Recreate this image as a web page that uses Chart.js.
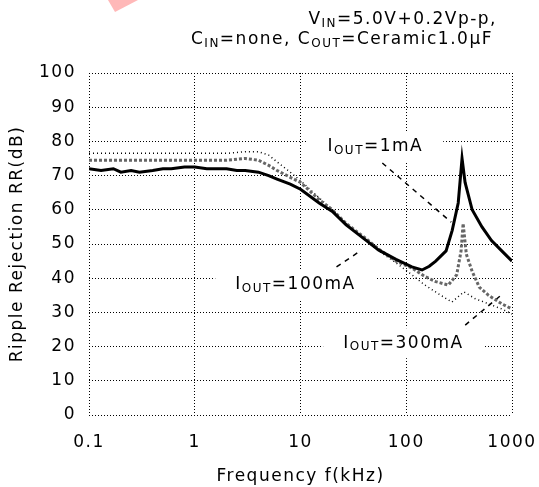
<!DOCTYPE html>
<html>
<head>
<meta charset="utf-8">
<script src="https://cdn.jsdelivr.net/npm/chart.js@4/dist/chart.umd.min.js"></script>
<style>
html,body{margin:0;padding:0;background:#fff;}
#wrap{width:539px;height:487px;}
</style>
</head>
<body>
<div id="wrap"><canvas id="c" width="539" height="487"></canvas></div>
<script>
// ---- data (frequency in kHz, ripple rejection in dB) ----
const freq1mA = [0.1,0.13,0.17,0.2,0.25,0.3,0.4,0.5,0.6,0.8,1,1.3,1.7,2,2.5,3,4,5,6,8,10,15,20,27,40,55,80,113,141,165,190,238,272,310,337,360,420,520,640,800,1000];
const rr1mA   = [72,71.5,72,71,71.5,71,71.5,72,72,72.5,72.5,72,72,72,71.5,71.5,71,70,69,67.5,66,62,59.5,55.6,51.5,48.2,45.5,43.3,42.4,43.5,45,48,54,62,75,68,60,55,51,48,45];

const freq100mA = [0.1,0.2,0.3,0.5,0.7,1,1.5,2,3,4,5,6,8,10,15,20,27,40,55,80,113,150,190,250,300,330,345,370,420,490,600,800,1000];
const rr100mA   = [74.5,74.5,74.5,74.5,74.5,74.5,74.5,74.5,75,74.5,73,71.5,69.5,68,63,60,56,52,48.5,45,43,40.5,39,38,41,48,56,47,42,37.4,35,32.5,31];

const freq300mA = [0.1,0.3,1,2,3,4,5,6,8,10,15,20,27,40,55,80,113,150,200,270,350,450,600,800,1000];
const rr300mA   = [76.5,76.5,76.5,76.5,77,77,76,74,71,68.5,63.5,60,56,51.5,48,44.5,41,38,35.5,33,36,34,32.5,31,29.5];

// leader lines from the labels to the curves: [freq, dB] pairs
const lead1mA   = [[59.4,73.7],[266,56.4]];
const lead100mA = [[21.9,43.3],[34.5,47.4]];
const lead300mA = [[361,26.3],[787,35]];

// curve labels: [freq, dB] of label centre
const label1mA   = {at:[51,78.4],  parts:[['I',0],['OUT',1],['=1mA',0]]};
const label100mA = {at:[8.97,38],  parts:[['I',0],['OUT',1],['=100mA',0]]};
const label300mA = {at:[94,21],    parts:[['I',0],['OUT',1],['=300mA',0]]};

const xTicks = [0.1,1,10,100,1000];
const xTickLabels = ['0.1','1','10','100','1000'];
const yMin = 0, yMax = 100, yStep = 10;

const cond1 = [['V',0],['IN',1],['=5.0V+0.2Vp-p,',0]];
const cond2 = [['C',0],['IN',1],['=none, C',0],['OUT',1],['=Ceramic1.0\u03bcF',0]];
const xTitle = 'Frequency f(kHz)';
const yTitle = 'Ripple Rejection RR(dB)';

const FONT = 'DejaVu Sans';
const FS = 17;
const SPACING = '1.5px';

function pts(xs, ys){ return xs.map((x,i)=>({x:x,y:ys[i]})); }
function lead(a){ return a.map(p=>({x:p[0],y:p[1]})); }

function richWidth(ctx, parts, size){
  let w=0;
  for(const [t,s] of parts){ ctx.font = (s?Math.round(size*0.7):size)+'px "'+FONT+'"'; w+=ctx.measureText(t).width; }
  return w;
}
function drawRich(ctx, parts, x, y, size, align){
  const w = richWidth(ctx, parts, size);
  let cx = align==='right' ? x-w : (align==='center' ? x-w/2 : x);
  ctx.textBaseline='middle'; ctx.textAlign='left'; ctx.fillStyle='#000';
  for(const [t,s] of parts){
    ctx.font = (s?Math.round(size*0.7):size)+'px "'+FONT+'"';
    ctx.fillText(t, cx, s? y+size*0.22 : y);
    cx += ctx.measureText(t).width;
  }
  return w;
}

const overlay = {
  id:'overlay',
  beforeInit(chart){ chart.ctx.letterSpacing = SPACING; },
  beforeUpdate(chart){ chart.ctx.letterSpacing = SPACING; },
  beforeDraw(chart){
    const ctx = chart.ctx;
    ctx.letterSpacing = SPACING;
    ctx.save();
    ctx.fillStyle='#fff'; ctx.fillRect(0,0,chart.width,chart.height);
    ctx.fillStyle='#ffb8b8';
    ctx.beginPath(); ctx.moveTo(108,0); ctx.lineTo(138,0); ctx.lineTo(115,12); ctx.closePath(); ctx.fill();
    ctx.restore();
  },
  afterDatasetsDraw(chart){
    const ctx = chart.ctx, xs = chart.scales.x, ys = chart.scales.y;
    ctx.save();
    ctx.letterSpacing = SPACING;
    for(const L of [label1mA,label100mA,label300mA]){
      const cx = xs.getPixelForValue(L.at[0]), cy = ys.getPixelForValue(L.at[1]);
      const w = richWidth(ctx, L.parts, FS);
      ctx.fillStyle='#fff';
      ctx.fillRect(cx-w/2-20, cy-15, w+40, 30);
      drawRich(ctx, L.parts, cx, cy, FS, 'center');
    }
    drawRich(ctx, cond1, 497, 20, FS, 'right');
    drawRich(ctx, cond2, 493, 40, FS, 'right');
    ctx.restore();
  }
};

const leaderStyle = {borderColor:'#000', borderWidth:1.5, borderDash:[5,5], pointRadius:0, fill:false, tension:0};

new Chart(document.getElementById('c'), {
  type:'line',
  data:{datasets:[
    {label:'IOUT=1mA', data:pts(freq1mA,rr1mA), borderColor:'#000', borderWidth:3, pointRadius:0, tension:0},
    {label:'IOUT=100mA', data:pts(freq100mA,rr100mA), borderColor:'#666', borderWidth:3, borderDash:[3,2], pointRadius:0, tension:0},
    {label:'IOUT=300mA', data:pts(freq300mA,rr300mA), borderColor:'#000', borderWidth:1.5, borderDash:[1,3], pointRadius:0, tension:0},
    Object.assign({label:'lead1', data:lead(lead1mA)}, leaderStyle),
    Object.assign({label:'lead100', data:lead(lead100mA)}, leaderStyle),
    Object.assign({label:'lead300', data:lead(lead300mA)}, leaderStyle)
  ]},
  plugins:[overlay],
  options:{
    responsive:false, animation:false, devicePixelRatio:1,
    layout:{padding:{top:73,right:27,left:0,bottom:0}},
    plugins:{legend:{display:false}, tooltip:{enabled:false}, title:{display:false}},
    scales:{
      x:{type:'logarithmic', min:xTicks[0], max:xTicks[xTicks.length-1],
        afterBuildTicks(s){ s.ticks = xTicks.map(v=>({value:v})); },
        afterFit(s){ s.height = 72; s.paddingLeft = 0; s.paddingRight = 0; },
        ticks:{color:'#000', font:{family:FONT,size:FS}, padding:17, maxRotation:0, autoSkip:false,
          callback(v){ const i = xTicks.indexOf(v); return i>=0 ? xTickLabels[i] : ''; }},
        grid:{color:'#000', lineWidth:1, drawTicks:false},
        border:{display:false, dash:[1,2]},
        title:{display:true, text:xTitle, color:'#000', font:{family:FONT,size:FS}, padding:{top:0,bottom:0}}
      },
      y:{min:yMin, max:yMax,
        afterFit(s){ s.width = 89; s.paddingTop = 0; s.paddingBottom = 0; },
        ticks:{stepSize:yStep, color:'#000', font:{family:FONT,size:FS}, padding:13},
        grid:{color:'#000', lineWidth:1, drawTicks:false},
        border:{display:false, dash:[1,2]},
        title:{display:true, text:yTitle, color:'#000', font:{family:FONT,size:FS}, padding:{top:7,bottom:0}}
      }
    }
  }
});
</script>
</body>
</html>
